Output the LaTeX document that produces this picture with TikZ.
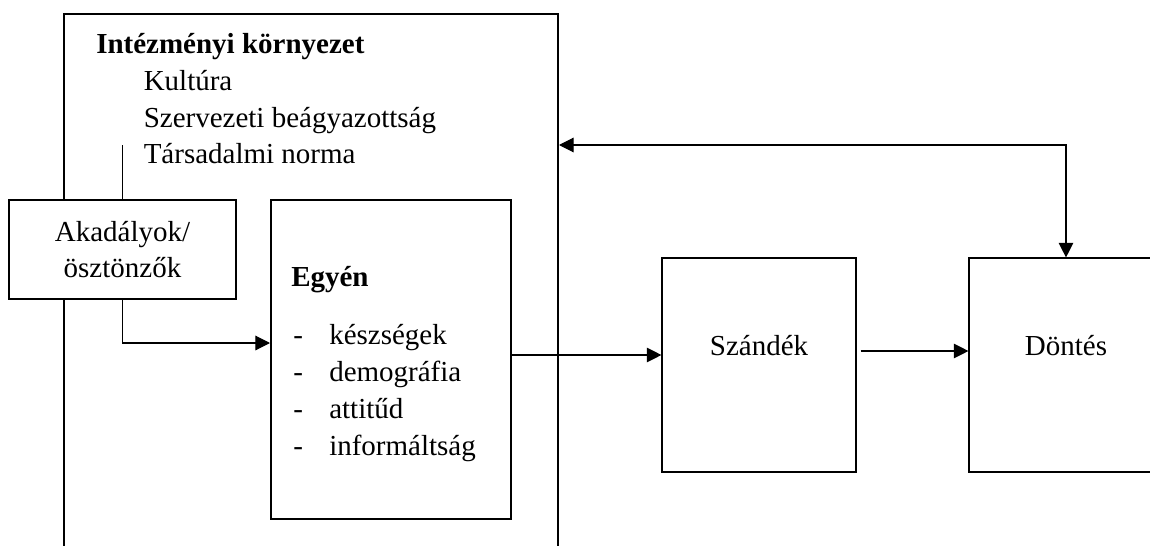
\documentclass[tikz,border=0pt]{standalone}
\usepackage{fontspec}
\setmainfont{Liberation Serif}
\usetikzlibrary{arrows.meta, positioning, calc}
\newcommand{\diagfont}{\fontsize{21.75}{27}\selectfont}

\begin{document}
\begin{tikzpicture}[
		x=0.75pt, y=-0.75pt,
		% Defining box styles
		framebox/.style={
				rectangle,
				draw=black,
				line width=1.5pt,
				inner sep=0pt
			},
		plainbox/.style={
				rectangle,
				draw=black,
				line width=0.85pt,
				inner sep=0pt,
				align=center,
				font=\diagfont
			},
		bodytext/.style={
				anchor=base west,
				inner sep=0pt,
				font=\diagfont
			},
		% Defining arrow styles
		link/.style={
				line width=0.85pt,
				draw=black
			},
		arrow/.style={
				-{Triangle[length=11pt,width=11pt]},
				line width=0.85pt,
				draw=black
			},
		arrowboth/.style={
				{Triangle[length=11pt,width=11pt]}-{Triangle[length=11pt,width=11pt]},
				line width=0.85pt,
				draw=black
			}
		]
		\clip (0,0) rectangle (1150,546);

		% Institutional environment
		\node[framebox, minimum width=370.5pt, minimum height=525pt] (envbox) at (311,364) {};
		\node[bodytext, font=\diagfont\bfseries] (env_title) at (96,53) {Intézményi környezet};
		\node[bodytext] (env_culture) at (143.5,90) {Kultúra};
		\node[bodytext] (env_embed) at (143.5,127) {Szervezeti beágyazottság};
		\node[bodytext] (env_norm) at (143.5,163) {Társadalmi norma};

		% Barriers
		\node[plainbox, fill=white, minimum width=170.25pt, minimum height=74.25pt] (barriers) at (122.5,249.5) {Akadályok/\\ösztönzők};

		% Individual
		\node[framebox, minimum width=180pt, minimum height=239.25pt] (indiv) at (391,359.5) {};
		\node[bodytext, font=\diagfont\bfseries] (indiv_title) at (291,286) {Egyén};
		\node[bodytext] (indiv_skills) at (293,344) {\hbox to 27pt{-\hfil}készségek};
		\node[bodytext] (indiv_demo) at (293,381) {\hbox to 27pt{-\hfil}demográfia};
		\node[bodytext] (indiv_attitude) at (293,418) {\hbox to 27pt{-\hfil}attitűd};
		\node[bodytext] (indiv_info) at (293,455) {\hbox to 27pt{-\hfil}informáltság};

		% Intention and decision
		\node[plainbox, minimum width=145.5pt, minimum height=160.5pt] (intent) at (759,365) {};
		\node[bodytext, anchor=base] (intent_label) at ($(intent.center)+(0,-10)$) {Szándék};
		\node[plainbox, minimum width=145.5pt, minimum height=160.5pt] (decision) at (1066,365) {};
		\node[bodytext, anchor=base] (decision_label) at ($(decision.center)+(0,-10)$) {Döntés};

		% Drawing connectors
		\coordinate (norm_top) at (122.5,145);
		\coordinate (fb_level) at (800,145);
		\draw[link] (norm_top) -- (barriers.north);
		\draw[arrow] (barriers.south) |- ($(indiv.west)+(0,-16.5)$);
		\draw[arrow] ($(indiv.east)+(0,-4.5)$) -- ($(intent.west)+(0,-10)$);
		\draw[arrow] ($(intent.east)+(4,-14)$) -- ($(decision.west)+(0,-14)$);
		\draw[arrowboth] (envbox.east |- fb_level) -| (decision.north);

	\end{tikzpicture}
\end{document}
